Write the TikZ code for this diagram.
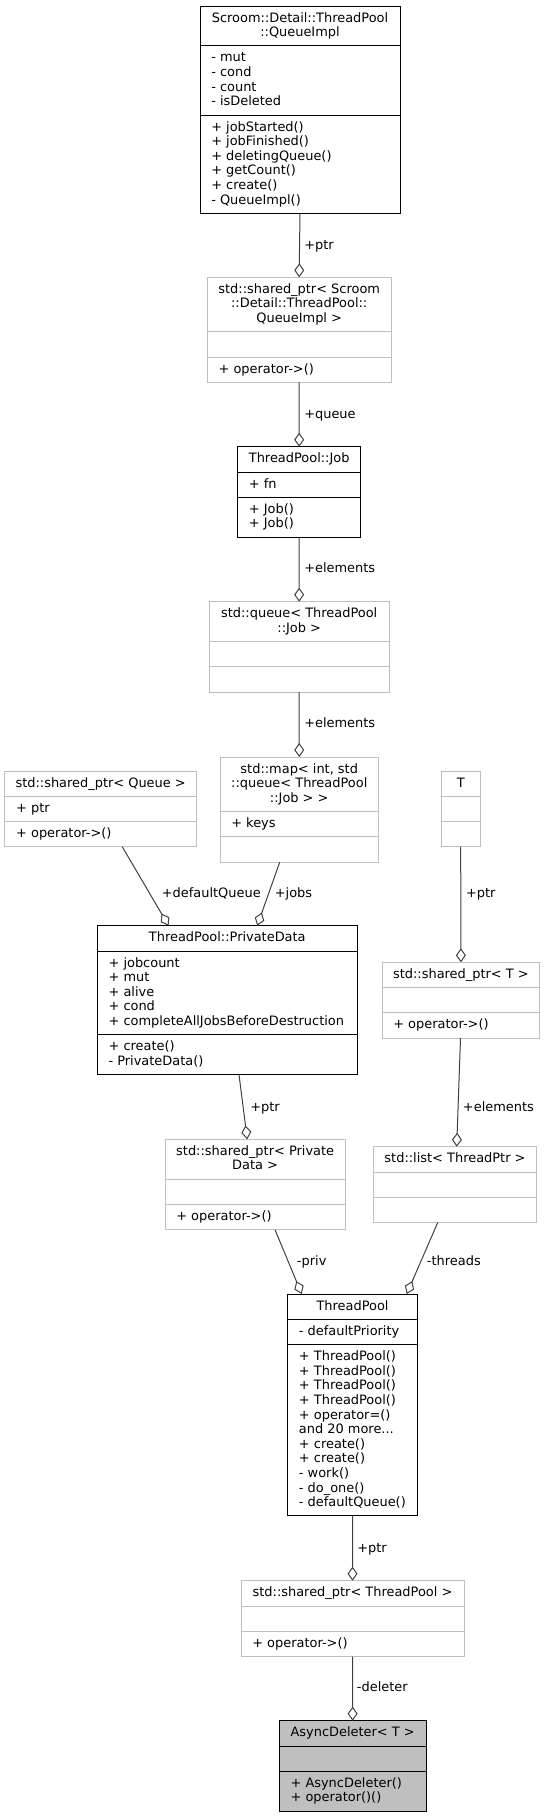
\documentclass[tikz,border=0pt]{standalone}
\usepackage{fontspec}
\setmainfont{DejaVu Sans}
\usetikzlibrary{arrows.meta,calc,fit}
\definecolor{edgegrey}{RGB}{64,64,64}
\definecolor{boxgrey}{RGB}{191,191,191}
\tikzset{
  classbox/.style={draw=black, line width=0.75pt, inner sep=0pt, outer sep=0pt},
  extbox/.style={draw=boxgrey, line width=0.75pt, inner sep=0pt, outer sep=0pt},
  classsep/.style={draw=black, line width=0.75pt},
  extsep/.style={draw=boxgrey, line width=0.75pt},
  classname/.style={anchor=base, inner sep=0pt, align=center},
  members/.style={anchor=base west, inner sep=0pt, align=left},
  role/.style={anchor=base west, inner sep=0pt},
  aggr/.style={draw=edgegrey, line width=0.75pt, -{Diamond[open, length=10.5pt, width=7.5pt]}}
}

\begin{document}
\begin{tikzpicture}[x=0.75pt,y=0.75pt,yscale=-1,xscale=1,font=\fontsize{9.7}{10.95}\selectfont]
\useasboundingbox (0,0) rectangle (545,1817);
% multi-line text nodes sit on the baseline of their last line

%Shape: Class QueueImpl
\node (qimpl) [classbox, fit={(200,6) (400,213.3)}] {};
\draw [classsep] (200,45.9) -- (400,45.9) ;
\draw [classsep] (200,115) -- (400,115) ;
% Text Node
\node (qimplname) [classname] at (300,36.6) {Scroom::Detail::ThreadPool\\::QueueImpl};
% Text Node
\node (qimplattr) [members] at (211,105.7) {- mut\\- cond\\- count\\- isDeleted};
% Text Node
\node (qimplop) [members] at (211,204) {+ jobStarted()\\+ jobFinished()\\+ deletingQueue()\\+ getCount()\\+ create()\\- QueueImpl()};

%Shape: Class shared_ptr QueueImpl
\node (spqimpl) [extbox, fit={(207.3,277.3) (391,382.4)}] {};
\draw [extsep] (207.3,331.8) -- (391,331.8) ;
\draw [extsep] (207.3,357.1) -- (391,357.1) ;
% Text Node
\node (spqimplname) [classname] at (299.2,322.5) {std::shared\_ptr< Scroom\\::Detail::ThreadPool::\\QueueImpl >};
% Text Node
\node (spqimplop) [members] at (218.3,373.1) {+ operator->()};

%Shape: Class Job
\node (job) [classbox, fit={(237.7,446.7) (360.7,537.2)}] {};
\draw [classsep] (237.7,472) -- (360.7,472) ;
\draw [classsep] (237.7,497.3) -- (360.7,497.3) ;
% Text Node
\node (jobname) [classname] at (299.2,462.7) {ThreadPool::Job};
% Text Node
\node (jobattr) [members] at (248.7,488) {+ fn};
% Text Node
\node (jobop) [members] at (248.7,527.9) {+ Job()\\+ Job()};

%Shape: Class queue
\node (jqueue) [extbox, fit={(209.3,601.7) (389,692.2)}] {};
\draw [extsep] (209.3,641.6) -- (389,641.6) ;
\draw [extsep] (209.3,666.9) -- (389,666.9) ;
% Text Node
\node (jqueuename) [classname] at (299.2,632.3) {std::queue< ThreadPool\\::Job >};

%Shape: Class map
\node (jmap) [extbox, fit={(220,757) (378.5,862.1)}] {};
\draw [extsep] (220,811.5) -- (378.5,811.5) ;
\draw [extsep] (220,836.8) -- (378.5,836.8) ;
% Text Node
\node (jmapname) [classname] at (299.25,802.2) {std::map< int, std\\::queue< ThreadPool\\::Job > >};
% Text Node
\node (jmapattr) [members] at (231,827.5) {+ keys};

%Shape: Class shared_ptr Queue
\node (spq) [extbox, fit={(4.9,771) (196.4,846.9)}] {};
\draw [extsep] (4.9,796.3) -- (196.4,796.3) ;
\draw [extsep] (4.9,821.6) -- (196.4,821.6) ;
% Text Node
\node (spqname) [classname] at (100.65,787) {std::shared\_ptr< Queue >};
% Text Node
\node (spqattr) [members] at (15.9,812.3) {+ ptr};
% Text Node
\node (spqop) [members] at (15.9,837.6) {+ operator->()};

%Shape: Class T
\node (tparam) [extbox, fit={(441.4,771) (480,846.9)}] {};
\draw [extsep] (441.4,796.3) -- (480,796.3) ;
\draw [extsep] (441.4,821.6) -- (480,821.6) ;
% Text Node
\node (tparamname) [classname] at (460.7,787) {T};

%Shape: Class PrivateData
\node (pdata) [classbox, fit={(97.3,925.7) (357.3,1074.6)}] {};
\draw [classsep] (97.3,951) -- (357.3,951) ;
\draw [classsep] (97.3,1034.7) -- (357.3,1034.7) ;
% Text Node
\node (pdataname) [classname] at (227.3,941.7) {ThreadPool::PrivateData};
% Text Node
\node (pdataattr) [members] at (108.3,1025.4) {+ jobcount\\+ mut\\+ alive\\+ cond\\+ completeAllJobsBeforeDestruction};
% Text Node
\node (pdataop) [members] at (108.3,1065.3) {+ create()\\- PrivateData()};

%Shape: Class shared_ptr T
\node (spt) [extbox, fit={(382,962.3) (539.8,1038.2)}] {};
\draw [extsep] (382,987.6) -- (539.8,987.6) ;
\draw [extsep] (382,1012.9) -- (539.8,1012.9) ;
% Text Node
\node (sptname) [classname] at (460.9,978.3) {std::shared\_ptr< T >};
% Text Node
\node (sptop) [members] at (393,1028.9) {+ operator->()};

%Shape: Class shared_ptr PrivateData
\node (sppd) [extbox, fit={(165,1139.3) (345.3,1229.8)}] {};
\draw [extsep] (165,1179.2) -- (345.3,1179.2) ;
\draw [extsep] (165,1204.5) -- (345.3,1204.5) ;
% Text Node
\node (sppdname) [classname] at (255.15,1169.9) {std::shared\_ptr< Private\\Data >};
% Text Node
\node (sppdop) [members] at (176,1220.5) {+ operator->()};

%Shape: Class list
\node (tlist) [extbox, fit={(373.3,1146.7) (536.7,1222.6)}] {};
\draw [extsep] (373.3,1172) -- (536.7,1172) ;
\draw [extsep] (373.3,1197.3) -- (536.7,1197.3) ;
% Text Node
\node (tlistname) [classname] at (455,1162.7) {std::list< ThreadPtr >};

%Shape: Class ThreadPool
\node (tpool) [classbox, fit={(287.7,1294) (417.3,1515.9)}] {};
\draw [classsep] (287.7,1319.3) -- (417.3,1319.3) ;
\draw [classsep] (287.7,1344.6) -- (417.3,1344.6) ;
% Text Node
\node (tpoolname) [classname] at (352.5,1310) {ThreadPool};
% Text Node
\node (tpoolattr) [members] at (298.7,1335.3) {- defaultPriority};
% Text Node
\node (tpoolop) [members] at (298.7,1506.6) {+ ThreadPool()\\+ ThreadPool()\\+ ThreadPool()\\+ ThreadPool()\\+ operator=()\\and 20 more...\\+ create()\\+ create()\\- work()\\- do\_one()\\- defaultQueue()};

%Shape: Class shared_ptr ThreadPool
\node (sptp) [extbox, fit={(241,1580.7) (464,1656.6)}] {};
\draw [extsep] (241,1606) -- (464,1606) ;
\draw [extsep] (241,1631.3) -- (464,1631.3) ;
% Text Node
\node (sptpname) [classname] at (352.5,1596.7) {std::shared\_ptr< ThreadPool >};
% Text Node
\node (sptpop) [members] at (252,1647.3) {+ operator->()};

%Shape: Class AsyncDeleter
\node (adel) [classbox, fill=boxgrey, fit={(279.3,1720.7) (426,1811.2)}] {};
\draw [classsep] (279.3,1746) -- (426,1746) ;
\draw [classsep] (279.3,1771.3) -- (426,1771.3) ;
% Text Node
\node (adelname) [classname] at (352.65,1736.7) {AsyncDeleter< T >};
% Text Node
\node (adelop) [members] at (290.3,1801.9) {+ AsyncDeleter()\\+ operator()()};

%Straight Lines
\draw [aggr] (qimpl.south) -- (spqimpl.north) ;
\draw [aggr] (spqimpl.south) -- (job.north) ;
\draw [aggr] (job.south) -- (jqueue.north) ;
\draw [aggr] (jqueue.south) -- (jmap.north) ;
\draw [aggr] ($(spq.south)+(21.7,0)$) -- ($(pdata.north)+(-58.7,0)$) ;
\draw [aggr] ($(jmap.south)+(-19.5,0)$) -- ($(pdata.north)+(29.9,0)$) ;
\draw [aggr] (tparam.south) -- (spt.north) ;
\draw [aggr] ($(pdata.south)+(11.7,0)$) -- ($(sppd.north)+(-7.9,0)$) ;
\draw [aggr] ($(spt.south)+(-0.4,0)$) -- ($(tlist.north)+(1.7,0)$) ;
\draw [aggr] ($(sppd.south)+(19.9,0)$) -- ($(tpool.north)+(-50.8,0)$) ;
\draw [aggr] ($(tlist.south)+(-17.3,0)$) -- ($(tpool.north)+(54.2,0)$) ;
\draw [aggr] (tpool.south) -- (sptp.north) ;
\draw [aggr] (sptp.south) -- (adel.north) ;

% Text Node
\node (lptr1) [role] at (304,249) {+ptr};
% Text Node
\node (lqueue) [role] at (304,418) {+queue};
% Text Node
\node (lelem1) [role] at (304,572) {+elements};
% Text Node
\node (lelem2) [role] at (304,727) {+elements};
% Text Node
\node (ldefq) [role] at (161.6,897) {+defaultQueue};
% Text Node
\node (ljobs) [role] at (274.6,897) {+jobs};
% Text Node
\node (lptr2) [role] at (465.8,897) {+ptr};
% Text Node
\node (lptr3) [role] at (250,1111) {+ptr};
% Text Node
\node (lelem3) [role] at (462.7,1111) {+elements};
% Text Node
\node (lpriv) [role] at (296.7,1265) {-priv};
% Text Node
\node (lthreads) [role] at (426.7,1265) {-threads};
% Text Node
\node (lptr4) [role] at (357,1552) {+ptr};
% Text Node
\node (ldeleter) [role] at (356.7,1691) {-deleter};

\end{tikzpicture}
\end{document}
